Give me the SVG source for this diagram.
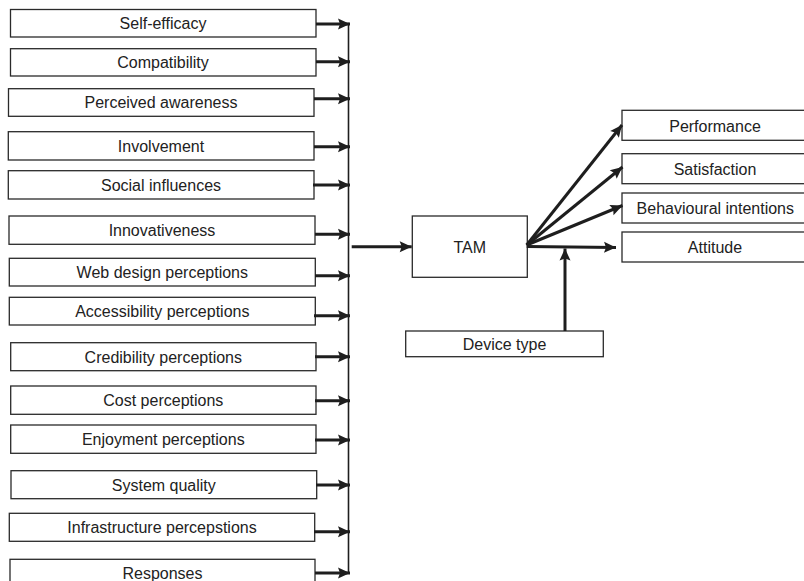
<svg xmlns="http://www.w3.org/2000/svg" width="804" height="581" viewBox="0 0 804 581">
<style>
.box{fill:#fff;stroke:#2a2a2a;stroke-width:1.3}
.lbl{font-family:"Liberation Sans",Arial,sans-serif;font-size:16px;fill:#222;text-anchor:middle}
.arr{stroke:#1e1e1e;stroke-width:3;fill:none;marker-end:url(#ah)}
.bus{stroke:#1e1e1e;stroke-width:1.6;fill:none}
</style>
<defs>
<marker id="ah" markerUnits="userSpaceOnUse" markerWidth="13" markerHeight="12" refX="12" refY="5.5" orient="auto" overflow="visible">
<path d="M0,0 L12,5.5 L0,11 L2,5.5 z" fill="#1e1e1e"/>
</marker>
</defs>
<rect width="804" height="581" fill="#fff"/>
<g id="n-self-efficacy"><rect class="box" x="10.5" y="9.5" width="305.5" height="27.5"/><text class="lbl" x="163" y="29.3">Self-efficacy</text></g>
<g id="n-compatibility"><rect class="box" x="10.5" y="48.7" width="305.5" height="27.3"/><text class="lbl" x="163" y="68.2">Compatibility</text></g>
<g id="n-perceived-awareness"><rect class="box" x="8.5" y="88.7" width="305.5" height="27.6"/><text class="lbl" x="161" y="108.3">Perceived awareness</text></g>
<g id="n-involvement"><rect class="box" x="8.3" y="131.7" width="305.7" height="28.3"/><text class="lbl" x="161" y="151.6">Involvement</text></g>
<g id="n-social-influences"><rect class="box" x="8.3" y="170.7" width="305.7" height="28.3"/><text class="lbl" x="161" y="190.6">Social influences</text></g>
<g id="n-innovativeness"><rect class="box" x="9" y="216" width="306" height="28.3"/><text class="lbl" x="162" y="235.9">Innovativeness</text></g>
<g id="n-web-design"><rect class="box" x="9.3" y="258.3" width="306" height="27.7"/><text class="lbl" x="162.3" y="277.9">Web design perceptions</text></g>
<g id="n-accessibility"><rect class="box" x="9.3" y="297.3" width="306" height="27.7"/><text class="lbl" x="162.3" y="316.9">Accessibility perceptions</text></g>
<g id="n-credibility"><rect class="box" x="10.7" y="342.7" width="305.3" height="28"/><text class="lbl" x="163.3" y="362.5">Credibility perceptions</text></g>
<g id="n-cost"><rect class="box" x="10.7" y="386" width="305.3" height="28.3"/><text class="lbl" x="163.3" y="406">Cost perceptions</text></g>
<g id="n-enjoyment"><rect class="box" x="10.7" y="425" width="305.3" height="28.3"/><text class="lbl" x="163.3" y="445">Enjoyment perceptions</text></g>
<g id="n-system-quality"><rect class="box" x="11" y="470.7" width="305.7" height="28"/><text class="lbl" x="163.8" y="490.5">System quality</text></g>
<g id="n-infrastructure"><rect class="box" x="9.3" y="513.3" width="305.4" height="28"/><text class="lbl" x="162" y="533.1">Infrastructure percepstions</text></g>
<g id="n-responses"><rect class="box" x="10" y="559.3" width="305" height="30"/><text class="lbl" x="162.5" y="578.5">Responses</text></g>
<g id="n-tam"><rect class="box" x="412.3" y="216" width="115" height="61.3"/><text class="lbl" x="469.8" y="252.7">TAM</text></g>
<g id="n-device-type"><rect class="box" x="405.7" y="331" width="197.6" height="25.7"/><text class="lbl" x="504.5" y="350">Device type</text></g>
<g id="n-performance"><rect class="box" x="622" y="110.3" width="190" height="30"/><text class="lbl" x="715" y="131.5">Performance</text></g>
<g id="n-satisfaction"><rect class="box" x="622" y="153.7" width="190" height="30"/><text class="lbl" x="715" y="174.7">Satisfaction</text></g>
<g id="n-behavioural"><rect class="box" x="622" y="193" width="190" height="30"/><text class="lbl" x="715.3" y="214">Behavioural intentions</text></g>
<g id="n-attitude"><rect class="box" x="622" y="232" width="190" height="30"/><text class="lbl" x="715" y="253">Attitude</text></g>
<g id="connectors">
<line class="bus" x1="348.5" y1="22.7" x2="348.5" y2="573.8"/>
<line class="arr" x1="316" y1="24" x2="350" y2="24"/>
<line class="arr" x1="316" y1="61.7" x2="350" y2="61.7"/>
<line class="arr" x1="314" y1="98.7" x2="350" y2="98.7"/>
<line class="arr" x1="314" y1="146.7" x2="350" y2="146.7"/>
<line class="arr" x1="313" y1="185" x2="350" y2="185"/>
<line class="arr" x1="315" y1="234.3" x2="350" y2="234.3"/>
<line class="arr" x1="315" y1="275.7" x2="350" y2="275.7"/>
<line class="arr" x1="314" y1="315.7" x2="350" y2="315.7"/>
<line class="arr" x1="315" y1="356.7" x2="350" y2="356.7"/>
<line class="arr" x1="315" y1="400.7" x2="350" y2="400.7"/>
<line class="arr" x1="315" y1="440" x2="350" y2="440"/>
<line class="arr" x1="316" y1="485" x2="350" y2="485"/>
<line class="arr" x1="314" y1="531.7" x2="350" y2="531.7"/>
<line class="arr" x1="315" y1="573" x2="350" y2="573"/>
<line class="arr" x1="351.7" y1="246.7" x2="411.7" y2="246.7"/>
<line class="arr" x1="526.7" y1="245" x2="622" y2="125"/>
<line class="arr" x1="526.7" y1="245" x2="622.5" y2="167"/>
<line class="arr" x1="526.7" y1="245" x2="622.5" y2="205.5"/>
<line class="arr" x1="526.7" y1="246.5" x2="616" y2="247.5"/>
<line class="arr" x1="565" y1="331" x2="565" y2="248.5"/>
</g>
</svg>
